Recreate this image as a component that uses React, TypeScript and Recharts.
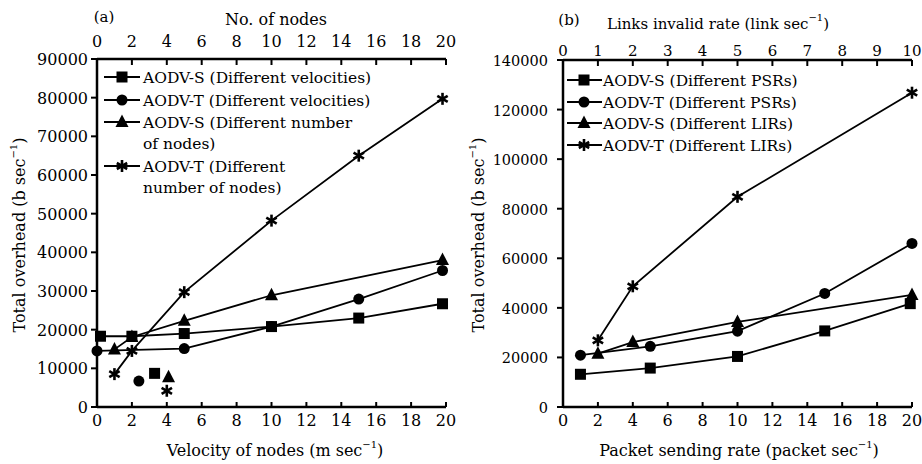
import React from "react";
import { ScatterChart, Scatter, XAxis, YAxis } from "recharts";

const FONT = "'DejaVu Serif', 'Liberation Serif', serif";

// (a) x values and overhead (b/s)
const velS = [0.2, 2, 5, 10, 15, 19.8];
const overheadSVel = [18300, 18300, 19000, 20800, 23000, 26700];
const velT = [0, 5, 10, 15, 19.8];
const overheadTVel = [14500, 15100, 20800, 27900, 35300];
const nodesS = [1, 2, 5, 10, 19.8];
const overheadSNodes = [14900, 18100, 22300, 28900, 38000];
const nodesT = [1, 2, 5, 10, 15, 19.8];
const overheadTNodes = [8500, 14500, 29700, 48200, 65000, 79700];
// stray symbols left in the plot area
const strayX = [2.4, 3.3, 4.1, 4.0];
const strayY = [6700, 8700, 7700, 4200];

const ticksA = [0, 2, 4, 6, 8, 10, 12, 14, 16, 18, 20];
const yTicksA = [0, 10000, 20000, 30000, 40000, 50000, 60000, 70000, 80000, 90000];

// (b)
const psr = [1, 5, 10, 15, 19.9];
const overheadSPsr = [13200, 15700, 20400, 30700, 41700];
const psrT = [1, 5, 10, 15, 20];
const overheadTPsr = [20900, 24500, 30600, 45800, 66000];
const lir = [1, 2, 5, 10];
const overheadSLir = [21500, 26200, 34300, 45200];
const overheadTLir = [26900, 48700, 84800, 126800];

const ticksBottomB = [0, 2, 4, 6, 8, 10, 12, 14, 16, 18, 20];
const ticksTopB = [0, 1, 2, 3, 4, 5, 6, 7, 8, 9, 10];
const yTicksB = [0, 20000, 40000, 60000, 80000, 100000, 120000, 140000];

const legendA = [
  ["AODV-S (Different velocities)"],
  ["AODV-T (Different velocities)"],
  ["AODV-S (Different number", "of nodes)"],
  ["AODV-T (Different", "number of nodes)"],
];
const legendB = [
  "AODV-S (Different PSRs)",
  "AODV-T (Different PSRs)",
  "AODV-S (Different LIRs)",
  "AODV-T (Different LIRs)",
];

type Shape = "square" | "circle" | "triangle" | "star";
const shapes: Shape[] = ["square", "circle", "triangle", "star"];
const strayShapes: Shape[] = ["circle", "square", "triangle", "star"];

const pts = (xs: number[], ys: number[]) => xs.map((x, i) => ({ x, y: ys[i] }));

function Marker({ cx, cy, shape }: { cx?: number; cy?: number; shape: Shape }) {
  if (cx == null || cy == null) return null;
  if (shape === "square")
    return <rect x={cx - 5.5} y={cy - 5.5} width={11} height={11} fill="#000" />;
  if (shape === "circle") return <circle cx={cx} cy={cy} r={5.5} fill="#000" />;
  if (shape === "triangle")
    return (
      <polygon
        points={`${cx},${cy - 7.5} ${cx + 6.5},${cy + 5} ${cx - 6.5},${cy + 5}`}
        fill="#000"
      />
    );
  const r = 6;
  return (
    <g stroke="#000" strokeWidth={2.6}>
      {[90, 30, 150].map((a) => {
        const dx = r * Math.cos((a * Math.PI) / 180);
        const dy = r * Math.sin((a * Math.PI) / 180);
        return <line key={a} x1={cx - dx} y1={cy - dy} x2={cx + dx} y2={cy + dy} />;
      })}
    </g>
  );
}

const shapeFn = (s: Shape) => (p: any) => <Marker cx={p.cx} cy={p.cy} shape={s} />;

const BottomTick = (props: any) => {
  const { x, y, payload } = props;
  return (
    <g>
      <line x1={x} x2={x} y1={y} y2={y - 5} stroke="#000" strokeWidth={2} />
      <text x={x} y={y + 19} textAnchor="middle" fontFamily={FONT} fontSize={16} fill="#000">
        {payload.value}
      </text>
    </g>
  );
};

const topTick = (gap: number, fs: number) => (props: any) => {
  const { x, y, payload } = props;
  return (
    <g>
      <line x1={x} x2={x} y1={y} y2={y + 6} stroke="#000" strokeWidth={2} />
      <text x={x} y={y - gap} textAnchor="middle" fontFamily={FONT} fontSize={fs} fill="#000">
        {payload.value}
      </text>
    </g>
  );
};

const leftTick = (gap: number, fs: number) => (props: any) => {
  const { x, y, payload } = props;
  return (
    <g>
      <line x1={x} x2={x - 6} y1={y} y2={y} stroke="#000" strokeWidth={2} />
      <text x={x - gap} y={y + 6} textAnchor="end" fontFamily={FONT} fontSize={fs} fill="#000">
        {payload.value}
      </text>
    </g>
  );
};

const axisLine = { stroke: "#000", strokeWidth: 2.5 };
const seriesLine = { stroke: "#000", strokeWidth: 1.8 };

function PanelA() {
  return (
    <ScatterChart width={460} height={464} margin={{ top: 29, right: 14, bottom: 27, left: 0 }}>
      <XAxis
        xAxisId="vel"
        dataKey="x"
        type="number"
        domain={[0, 20]}
        ticks={ticksA}
        height={30}
        tickSize={0}
        tickMargin={0}
        axisLine={axisLine}
        tick={BottomTick}
        interval={0}
      />
      <XAxis
        xAxisId="nodes"
        orientation="top"
        dataKey="x"
        type="number"
        domain={[0, 20]}
        ticks={ticksA}
        height={30}
        tickSize={0}
        tickMargin={0}
        axisLine={axisLine}
        tick={topTick(12, 16)}
        interval={0}
      />
      <YAxis
        dataKey="y"
        type="number"
        domain={[0, 90000]}
        ticks={yTicksA}
        width={97}
        tickSize={0}
        tickMargin={0}
        axisLine={axisLine}
        tick={leftTick(9, 16)}
        interval={0}
      />
      <Scatter xAxisId="vel" data={pts(velS, overheadSVel)} line={seriesLine} lineType="joint" shape={shapeFn("square")} isAnimationActive={false} />
      <Scatter xAxisId="vel" data={pts(velT, overheadTVel)} line={seriesLine} lineType="joint" shape={shapeFn("circle")} isAnimationActive={false} />
      <Scatter xAxisId="nodes" data={pts(nodesS, overheadSNodes)} line={seriesLine} lineType="joint" shape={shapeFn("triangle")} isAnimationActive={false} />
      <Scatter xAxisId="nodes" data={pts(nodesT, overheadTNodes)} line={seriesLine} lineType="joint" shape={shapeFn("star")} isAnimationActive={false} />
      {strayX.map((sx, k) => (
        <Scatter
          key={k}
          xAxisId="vel"
          data={[{ x: sx, y: strayY[k] }]}
          shape={shapeFn(strayShapes[k])}
          isAnimationActive={false}
        />
      ))}
    </ScatterChart>
  );
}

function PanelB() {
  return (
    <ScatterChart width={462} height={464} margin={{ top: 30, right: 10, bottom: 27, left: 0 }}>
      <XAxis
        xAxisId="psr"
        dataKey="x"
        type="number"
        domain={[0, 20]}
        ticks={ticksBottomB}
        height={30}
        tickSize={0}
        tickMargin={0}
        axisLine={axisLine}
        tick={BottomTick}
        interval={0}
      />
      <XAxis
        xAxisId="lir"
        orientation="top"
        dataKey="x"
        type="number"
        domain={[0, 10]}
        ticks={ticksTopB}
        height={30}
        tickSize={0}
        tickMargin={0}
        axisLine={axisLine}
        tick={topTick(4, 15)}
        interval={0}
      />
      <YAxis
        dataKey="y"
        type="number"
        domain={[0, 140000]}
        ticks={yTicksB}
        width={103}
        tickSize={0}
        tickMargin={0}
        axisLine={axisLine}
        tick={leftTick(15, 14.5)}
        interval={0}
      />
      <Scatter xAxisId="psr" data={pts(psr, overheadSPsr)} line={seriesLine} lineType="joint" shape={shapeFn("square")} isAnimationActive={false} />
      <Scatter xAxisId="psr" data={pts(psrT, overheadTPsr)} line={seriesLine} lineType="joint" shape={shapeFn("circle")} isAnimationActive={false} />
      <Scatter xAxisId="lir" data={pts(lir, overheadSLir)} line={seriesLine} lineType="joint" shape={shapeFn("triangle")} isAnimationActive={false} />
      <Scatter xAxisId="lir" data={pts(lir, overheadTLir)} line={seriesLine} lineType="joint" shape={shapeFn("star")} isAnimationActive={false} />
    </ScatterChart>
  );
}

const Sup = ({ children }: { children: string }) => (
  <>
    <tspan dy={-8} fontSize={10}>
      {children}
    </tspan>
    <tspan dy={8}>)</tspan>
  </>
);

function Overlay() {
  const t = { fontFamily: FONT, fill: "#000" };
  return (
    <svg
      width={922}
      height={464}
      style={{ position: "absolute", left: 0, top: 0, pointerEvents: "none" }}
    >
      <text x={104} y={22} textAnchor="middle" fontSize={15} {...t}>(a)</text>
      <text x={276} y={25} textAnchor="middle" fontSize={16} {...t}>No. of nodes</text>
      <text x={275} y={456} textAnchor="middle" fontSize={16} {...t}>
        Velocity of nodes (m sec<Sup>−1</Sup>
      </text>
      <text transform="translate(25,235) rotate(-90)" textAnchor="middle" fontSize={16} {...t}>
        Total overhead (b sec<Sup>−1</Sup>
      </text>

      <text x={569} y={25} textAnchor="middle" fontSize={15} {...t}>(b)</text>
      <text x={718} y={29} textAnchor="middle" fontSize={15} {...t}>
        Links invalid rate (link sec<Sup>−1</Sup>
      </text>
      <text x={739} y={456} textAnchor="middle" fontSize={16} {...t}>
        Packet sending rate (packet sec<Sup>−1</Sup>
      </text>
      <text transform="translate(484,235) rotate(-90)" textAnchor="middle" fontSize={16} {...t}>
        Total overhead (b sec<Sup>−1</Sup>
      </text>

      {legendA.map((lines, i) => {
        const y = [77, 100, 122, 166][i];
        return (
          <g key={i}>
            <line x1={104} x2={140} y1={y} y2={y} stroke="#000" strokeWidth={2} />
            <Marker cx={122} cy={y} shape={shapes[i]} />
            {lines.map((s, j) => (
              <text key={j} x={143} y={y + 6 + j * 21} fontSize={15.5} {...t}>
                {s}
              </text>
            ))}
          </g>
        );
      })}

      {legendB.map((s, i) => {
        const y = [80, 102, 123, 145][i];
        return (
          <g key={i}>
            <line x1={567} x2={602} y1={y} y2={y} stroke="#000" strokeWidth={2} />
            <Marker cx={584} cy={y} shape={shapes[i]} />
            <text x={603} y={y + 6} fontSize={15.5} {...t}>
              {s}
            </text>
          </g>
        );
      })}
    </svg>
  );
}

export default function App() {
  return (
    <div style={{ position: "absolute", left: 0, top: 0, width: 922, height: 464, background: "#fff" }}>
      <div style={{ position: "absolute", left: 0, top: 0 }}>
        <PanelA />
      </div>
      <div style={{ position: "absolute", left: 460, top: 0 }}>
        <PanelB />
      </div>
      <Overlay />
    </div>
  );
}
